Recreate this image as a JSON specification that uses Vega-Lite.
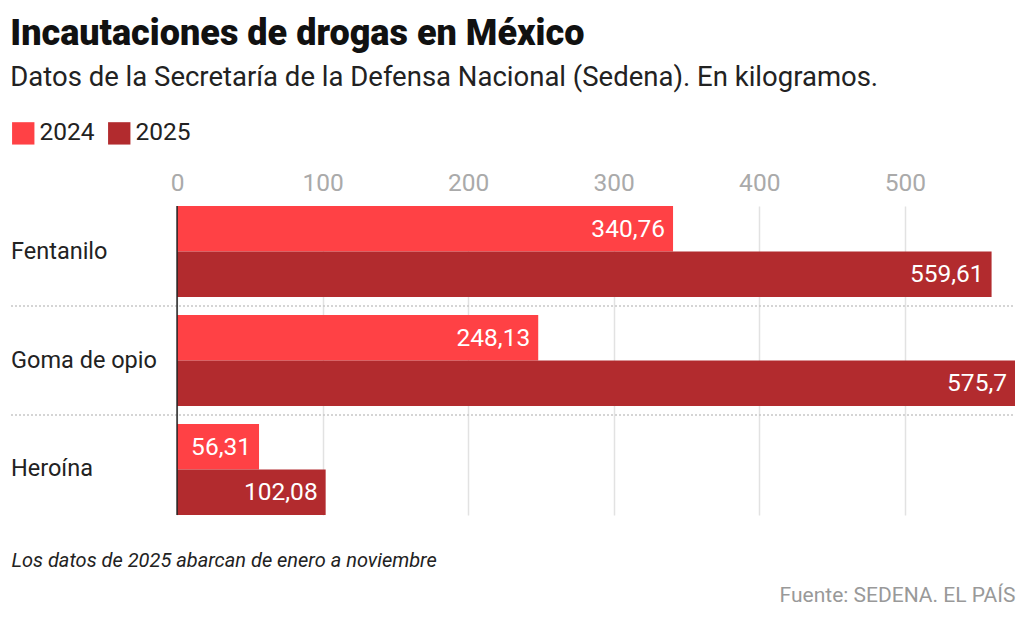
{
  "$schema": "https://vega.github.io/schema/vega-lite/v6.json",
  "padding": {"left": 10, "right": 10, "top": 15, "bottom": 10},
  "background": "white",
  "width": 1004,
  "height": 309,
  "title": {
    "text": "Incautaciones de drogas en México",
    "subtitle": "Datos de la Secretaría de la Defensa Nacional (Sedena). En kilogramos.",
    "anchor": "start",
    "font": "Roboto",
    "fontSize": 36,
    "fontWeight": 900,
    "color": "#111111",
    "subtitleFont": "Roboto",
    "subtitleFontSize": 27.5,
    "subtitleColor": "#222222",
    "subtitlePadding": 11,
    "offset": 29
  },
  "config": {
    "view": {"stroke": null},
    "locale": {"number": {"decimal": ",", "thousands": ".", "grouping": [3], "currency": ["", " €"]}},
    "font": "Roboto"
  },
  "datasets": {
    "bars": [
      {"cat": "Fentanilo", "year": "2024", "value": 340.76},
      {"cat": "Fentanilo", "year": "2025", "value": 559.61},
      {"cat": "Goma de opio", "year": "2024", "value": 248.13},
      {"cat": "Goma de opio", "year": "2025", "value": 575.7},
      {"cat": "Heroína", "year": "2024", "value": 56.31},
      {"cat": "Heroína", "year": "2025", "value": 102.08}
    ],
    "cats": [
      {"cat": "Fentanilo", "sep": true},
      {"cat": "Goma de opio", "sep": true},
      {"cat": "Heroína", "sep": false}
    ]
  },
  "resolve": {"axis": {"x": "independent"}},
  "layer": [
    {
      "data": {"name": "bars"},
      "mark": {"type": "bar"},
      "encoding": {
        "y": {"field": "cat", "type": "nominal", "sort": null, "axis": null,
              "scale": {"paddingInner": 0.165, "paddingOuter": 0}},
        "yOffset": {"field": "year", "type": "nominal", "scale": {"paddingInner": 0, "paddingOuter": 0}},
        "x": {"field": "value", "type": "quantitative",
              "scale": {"domain": [-114.1, 575.7], "zero": false, "nice": false},
              "axis": {"orient": "top", "values": [0, 100, 200, 300, 400, 500], "title": null,
                       "domain": false, "ticks": false, "labelFontSize": 24.5, "labelColor": "#aaaaaa",
                       "labelPadding": 11, "labelFont": "Roboto",
                       "grid": true, "gridColor": "#e2e2e2", "gridWidth": 1.5}},
        "x2": {"datum": 0},
        "color": {"field": "year", "type": "nominal",
                  "scale": {"domain": ["2024", "2025"], "range": ["#ff4145", "#b22b2e"]},
                  "legend": {"orient": "top", "direction": "horizontal", "title": null,
                             "labelFontSize": 24.5, "labelColor": "#222222", "labelFont": "Roboto",
                             "symbolType": "square", "symbolSize": 500, "symbolStrokeWidth": 0,
                             "symbolOpacity": 1, "columnPadding": 12, "labelOffset": 4, "offset": 25}}
      }
    },
    {
      "data": {"name": "bars"},
      "mark": {"type": "text", "align": "right", "baseline": "middle", "dx": -8, "dy": 1,
               "fontSize": 24.5, "color": "white", "font": "Roboto"},
      "encoding": {
        "y": {"field": "cat", "type": "nominal", "sort": null, "axis": null},
        "yOffset": {"field": "year", "type": "nominal"},
        "x": {"field": "value", "type": "quantitative", "axis": null},
        "text": {"field": "value", "type": "quantitative", "format": "~f"}
      }
    },
    {
      "data": {"name": "cats"},
      "transform": [{"filter": "datum.sep"}],
      "mark": {"type": "rule", "color": "#c8c8c8", "strokeDash": [2, 2], "strokeWidth": 1.5},
      "encoding": {
        "y": {"field": "cat", "type": "nominal", "sort": null, "bandPosition": 1.1, "axis": null},
        "x": {"datum": -114.1, "type": "quantitative",
              "axis": {"orient": "bottom", "labels": false, "ticks": false, "domain": false, "grid": false,
                       "title": "Fuente: SEDENA. EL PAÍS",
                       "titleAnchor": "end", "titleFontWeight": "normal",
                       "titleFontSize": 21, "titleColor": "#999999", "titleFont": "Roboto", "titlePadding": 69}},
        "x2": {"datum": 575.7}
      }
    },
    {
      "data": {"name": "cats"},
      "mark": {"type": "text", "align": "left", "baseline": "middle", "fontSize": 23.5, "color": "#222222", "font": "Roboto"},
      "encoding": {
        "y": {"field": "cat", "type": "nominal", "sort": null, "axis": null},
        "x": {"datum": -114.1, "type": "quantitative",
              "axis": {"orient": "bottom", "labels": false, "ticks": false, "domain": false, "grid": false,
                       "title": "Los datos de 2025 abarcan de enero a noviembre",
                       "titleAnchor": "start", "titleFontStyle": "italic", "titleFontWeight": "normal",
                       "titleFontSize": 20, "titleColor": "#222222", "titleFont": "Roboto", "titlePadding": 35}},
        "text": {"field": "cat"}
      }
    },
    {
      "data": {"values": [{"z": 0}]},
      "mark": {"type": "rule", "color": "#222222", "strokeWidth": 1.5},
      "encoding": {
        "x": {"field": "z", "type": "quantitative", "axis": null}
      }
    }
  ]
}
